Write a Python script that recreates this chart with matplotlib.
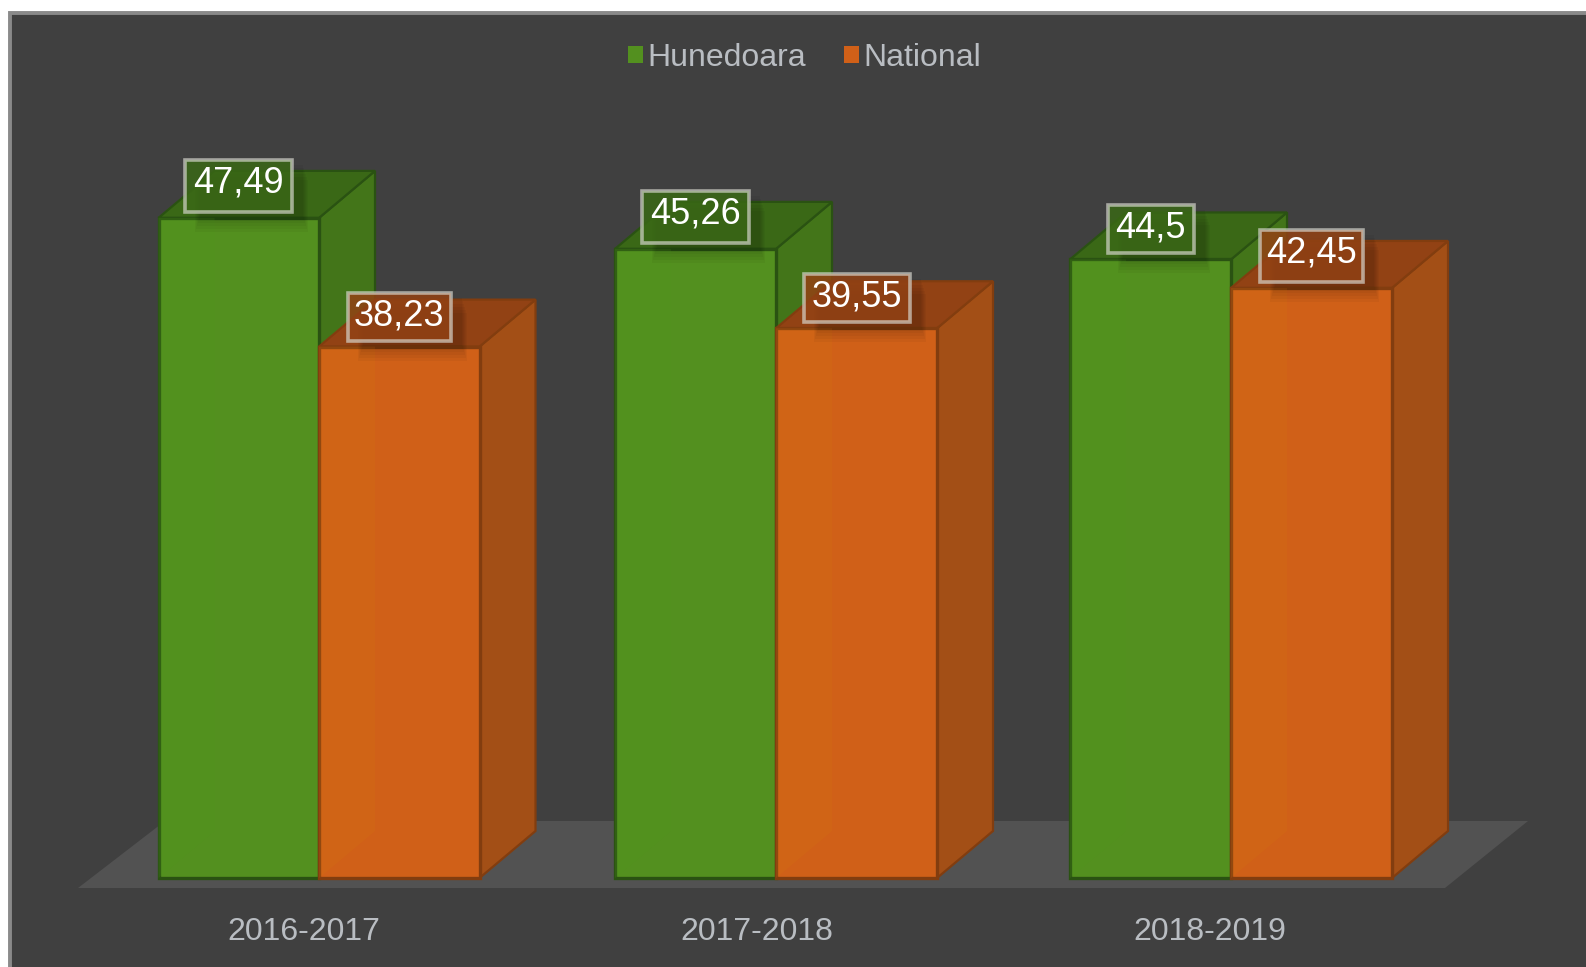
import matplotlib
matplotlib.use("Agg")
import matplotlib.pyplot as plt
from matplotlib.patches import Patch, Polygon, Rectangle

years = ["2016-2017", "2017-2018", "2018-2019"]
hunedoara = [47.49, 45.26, 44.5]
national = [38.23, 39.55, 42.45]
hunedoara_labels = ["47,49", "45,26", "44,5"]
national_labels = ["38,23", "39,55", "42,45"]

# layout, in pixels
W, H = 1586, 967
BASE = 878      # pixel row of value 0
SCALE = 13.9    # pixels per unit
DX = 56
DY = 47 / SCALE
group_left = [158.5, 615, 1070]
bar_w = [160.5, 161, 161]
tick_x = [304, 757, 1210]
green_box = [(107, 52), (107, 52), (86, 48)]
orange_box = [(103, 48), (106, 48), (103, 52)]

green = dict(front="#53901f", side="#437519", top="#3a6816", edge="#2a5212", tint="#4f9a1c")
orange = dict(front="#d06018", side="#a34f16", top="#924214", edge="#823d0f", tint="#d0780f")
FONT = "Liberation Sans"


def y_of(row):
    return (BASE - row) / SCALE


def draw_bar(ax, x, w, v, c, z):
    ax.add_patch(Polygon([(x + w, 0), (x + w + DX, DY), (x + w + DX, v + DY), (x + w, v)],
                         fc=c["side"], ec=c["edge"], lw=1.6, zorder=z, clip_on=False))
    ax.add_patch(Polygon([(x, v), (x + DX, v + DY), (x + w + DX, v + DY), (x + w, v)],
                         fc=c["top"], ec=c["edge"], lw=1.6, zorder=z, clip_on=False))
    ax.bar(x, v, width=w, align="edge", color=c["front"], edgecolor=c["edge"], linewidth=2.4,
           zorder=z + 0.1, clip_on=False)
    # the back of the box shows faintly through the front
    ax.add_patch(Polygon([(x, 0), (x + DX, DY), (x + DX, v), (x, v)],
                         fc=c["tint"], alpha=0.2, lw=0, zorder=z + 0.2))


def draw_label(ax, cx, v, text, size, c):
    w, h = size
    bottom = v + 6 / SCALE
    hh = h / SCALE
    # soft shadow falling on the bar
    for i in range(6):
        ax.add_patch(Rectangle((cx - w / 2 + 10 + i, bottom - (20 - 3 * i) / SCALE), w + 6 - 2 * i, hh,
                               fc="black", alpha=0.035, lw=0, zorder=20))
    ax.add_patch(Rectangle((cx - w / 2, bottom), w, hh, fc=c["top"], alpha=0.85, lw=0, zorder=21))
    ax.add_patch(Rectangle((cx - w / 2, bottom), w, hh, fc="none", ec="#d8d8d0", alpha=0.68,
                           lw=2.6, zorder=22))
    ax.text(cx, bottom + hh - 23 / SCALE, text, color="white", fontsize=26, family=FONT,
            ha="center", va="center", zorder=23)


fig = plt.figure(figsize=(W / 100, H / 100), dpi=100, facecolor="white")
fig.add_artist(Rectangle((9.5 / W, -0.01), 1.01, 1 - 13 / H + 0.01, transform=fig.transFigure,
                         fc="#404040", ec="#8a8a8a", lw=2.8, zorder=-1))

ax = fig.add_axes([0, (H - BASE) / H, 1, BASE / H])
ax.patch.set_visible(False)
ax.set_xlim(0, W)
ax.set_ylim(0, BASE / SCALE)
for s in ax.spines.values():
    s.set_visible(False)
ax.yaxis.set_visible(False)

ax.add_patch(Polygon([(78, y_of(888)), (1445, y_of(888)), (1528, y_of(821)), (165, y_of(821))],
                     fc="#525252", ec="none", zorder=1, clip_on=False))

for i in range(len(years)):
    x = group_left[i]
    w = bar_w[i]
    draw_bar(ax, x, w, hunedoara[i], green, 2)
    draw_bar(ax, x + w, w, national[i], orange, 3)
    draw_label(ax, x + w / 2, hunedoara[i], hunedoara_labels[i], green_box[i], green)
    draw_label(ax, x + w + w / 2, national[i], national_labels[i], orange_box[i], orange)

ax.set_xticks(tick_x)
ax.set_xticklabels(years, fontsize=23, color="#b9bdc2", family=FONT)
ax.tick_params(axis="x", length=0, pad=28)

handles = [Patch(fc=green["front"], label="Hunedoara"), Patch(fc=orange["front"], label="National")]
ax.legend(handles=handles, loc="center", bbox_to_anchor=(804.5 / W, (BASE - 58) / BASE), ncol=2,
          frameon=False, handlelength=0.47, handleheight=0.47, handletextpad=0.12, columnspacing=1.2,
          labelcolor="#b9bdc2", prop={"family": FONT, "size": 23})

fig.savefig("out.png", dpi=100, facecolor=fig.get_facecolor())
